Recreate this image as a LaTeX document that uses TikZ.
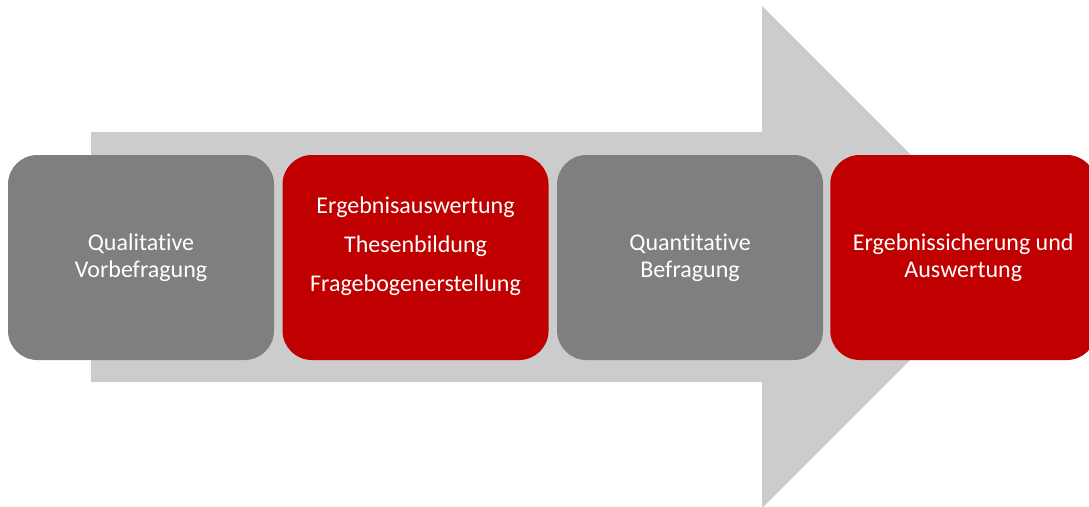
\documentclass[tikz,border=0pt]{standalone}
\usepackage{fontspec}
\setmainfont{Carlito}[Ligatures=NoCommon]
\usetikzlibrary{positioning}
\definecolor{stepgray}{HTML}{7F7F7F}
\definecolor{stepred}{HTML}{C00000}
\definecolor{arrowgray}{HTML}{CCCCCC}
\tikzstyle{every node}=[text=white,align=center,font=\fontsize{18}{20}\selectfont]
\tikzstyle{phase}=[rounded corners=22pt,minimum width=199.5pt,minimum height=153.75pt,inner sep=0pt]
\tikzstyle{grayphase}=[phase,fill=stepgray]
\tikzstyle{redphase}=[phase,fill=stepred]

\begin{document}
\begin{tikzpicture}[x=0.75pt,y=-0.75pt]
  \useasboundingbox (0,0) rectangle (1089,507);
  % big arrow behind the boxes
  \fill[arrowgray] (91,132) -- (762,132) -- (762,6) -- (1013,257)
    -- (762,508) -- (762,382) -- (91,382) -- cycle;
  \node [grayphase] (vorbefragung) at (141,257.5) {Qualitative\\Vorbefragung};
  \node [redphase, right=6pt of vorbefragung] (thesen)
    {Ergebnisauswertung\\[9pt]Thesenbildung\\[9pt]Fragebogenerstellung\\[0pt]\mbox{}};
  \node [grayphase, right=6pt of thesen] (befragung) {Quantitative\\Befragung};
  \node [redphase, right=5pt of befragung] (auswertung) {Ergebnissicherung und\\Auswertung};
\end{tikzpicture}
\end{document}
